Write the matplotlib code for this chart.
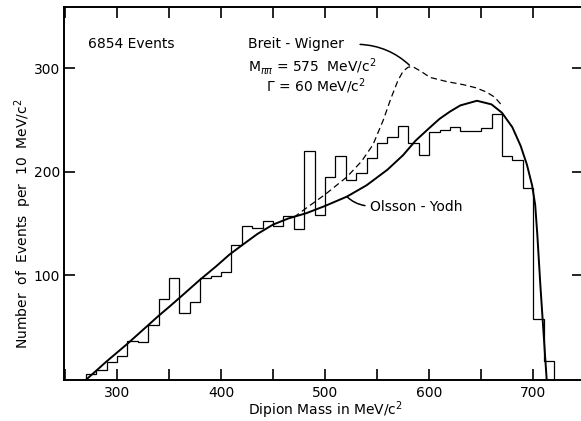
import numpy as np
from matplotlib import pyplot as plt

# histogram: 10 MeV bins from 270 to 720
bin_edges = np.arange(270, 730, 10)
counts = [5, 9, 16, 22, 37, 36, 52, 77, 97, 64,
          74, 97, 99, 103, 129, 148, 146, 152, 148, 157,
          145, 220, 158, 195, 215, 192, 199, 213, 228, 234,
          244, 228, 216, 238, 240, 243, 239, 239, 242, 256,
          215, 211, 184, 58, 17]

# Olsson-Yodh curve
oy_mass = [271, 280, 290, 300, 310, 320, 330, 340, 350, 362, 380, 395, 408,
           420, 435, 450, 465, 482, 500, 521, 540, 560, 575, 587, 600, 610,
           620, 630, 646, 660, 670, 680, 688, 694, 699, 702, 704, 707, 710, 713]
oy_events = [0, 8, 17, 25.5, 34, 43, 52, 61, 69.5, 80, 96, 108.5, 120,
             129, 140, 149, 155, 160, 167, 176, 187, 202, 216, 230, 242, 251,
             258, 264, 268.5, 265, 257, 243, 225, 207, 187, 168, 140, 90, 45, 0]

# Breit-Wigner (dashed)
bw_mass = [470, 482, 500, 521, 535, 546, 556, 563, 570, 575, 580, 585, 592,
           601, 617, 633, 645, 655, 663, 670]
bw_events = [156, 165, 178, 195, 210, 226, 250, 270, 288, 297, 301, 301, 297,
             291, 287, 284, 281, 277, 272, 264]

fig = plt.figure(figsize=(5.81, 4.21), dpi=100)
ax = fig.add_axes([0.1102, 0.0974, 0.8933, 0.886])

ax.stairs(counts, bin_edges, baseline=0, color="black", lw=0.9)
ax.plot(oy_mass, oy_events, color="black", lw=1.4)
ax.plot(bw_mass, bw_events, color="black", lw=0.9, linestyle=(0, (5, 3)))

ax.set_xlim(249, 748)
ax.set_ylim(-1, 359)

ax.set_xticks(np.arange(300, 750, 100))
ax.set_xticks(np.arange(250, 750, 50), minor=True)
ax.set_yticks([100, 200, 300])
ax.tick_params(direction="in", top=True, right=True, length=8, width=1.2,
               labelsize=10, pad=4)
ax.tick_params(which="minor", direction="in", top=True, length=8, width=1.2)
ax.tick_params(axis="y", pad=3)
for s in ax.spines.values():
    s.set_linewidth(1.4)

ax.set_xlabel("Dipion Mass in MeV/c$^2$", fontsize=10)
ax.set_ylabel("Number  of  Events  per  10  MeV/c$^2$", fontsize=10)
ax.xaxis.set_label_coords(0.503, -0.053)
ax.yaxis.set_label_coords(-0.058, 0.42)

ax.text(272, 323, "6854 Events", fontsize=10, va="center")
ax.text(426, 323, "Breit - Wigner", fontsize=10, va="center")
ax.text(426, 302, "M$_{\\pi\\pi}$ = 575  MeV/c$^2$", fontsize=10, va="center")
ax.text(443, 283, "\u0393 = 60 MeV/c$^2$", fontsize=10, va="center")
ax.text(543, 166, "Olsson - Yodh", fontsize=10, va="center")

ax.annotate("", xy=(583, 301), xytext=(531, 323),
            arrowprops=dict(arrowstyle="-", color="black", lw=1.1,
                            connectionstyle="arc3,rad=-0.2"))
ax.annotate("", xy=(519, 178), xytext=(541, 167),
            arrowprops=dict(arrowstyle="-", color="black", lw=1.1,
                            connectionstyle="arc3,rad=-0.2"))

fig.savefig("out.png")
